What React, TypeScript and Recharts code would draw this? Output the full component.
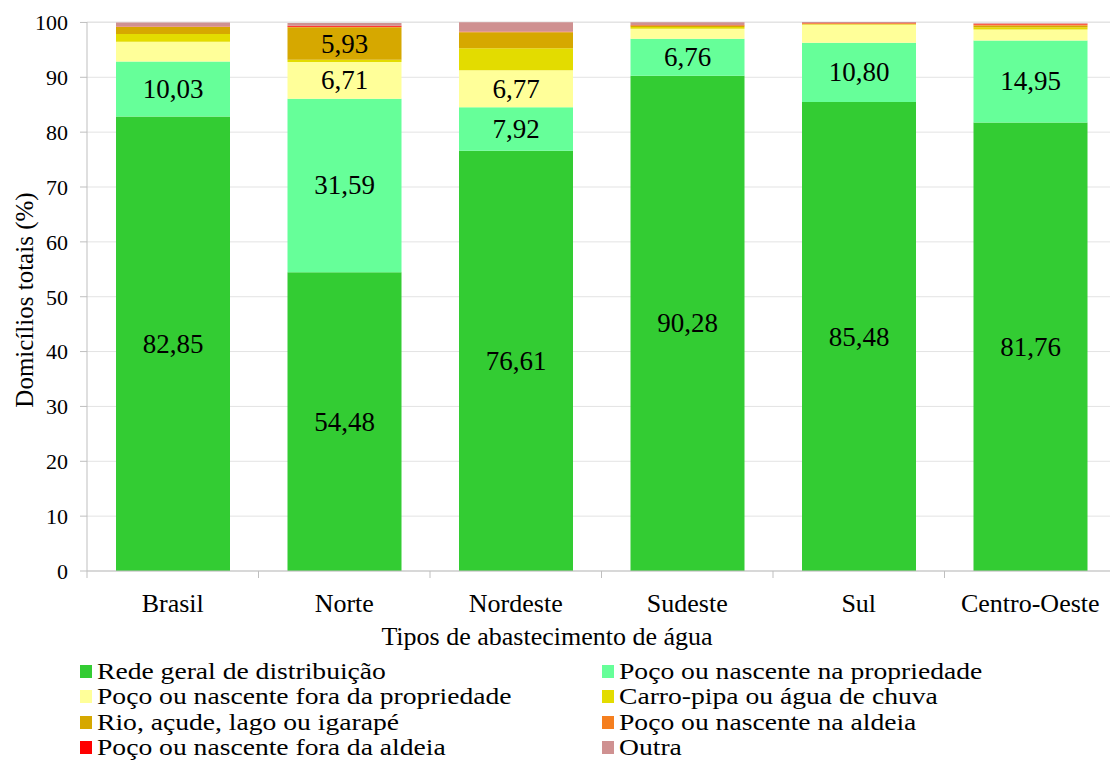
import { BarChart, Bar, XAxis, YAxis, CartesianGrid, Legend, LabelList } from 'recharts'

const regioes = ['Brasil', 'Norte', 'Nordeste', 'Sudeste', 'Sul', 'Centro-Oeste']

const redeGeral = [82.85, 54.48, 76.61, 90.28, 85.48, 81.76]
const pocoPropriedade = [10.03, 31.59, 7.92, 6.76, 10.8, 14.95]
const pocoForaPropriedade = [3.6, 6.71, 6.77, 1.8, 3.3, 2.0]
const carroPipa = [1.4, 0.4, 4.0, 0.35, 0.1, 0.4]
const rioAcude = [1.3, 5.93, 2.9, 0.25, 0.1, 0.35]
const pocoAldeia = [0.05, 0.1, 0.1, 0.05, 0.05, 0.15]
const pocoForaAldeia = [0.05, 0.2, 0.05, 0.05, 0.05, 0.15]
const outra = [0.7, 0.5, 1.7, 0.5, 0.2, 0.1]

const yTicks = [0, 10, 20, 30, 40, 50, 60, 70, 80, 90, 100]

const series = [
  { key: 'rede', name: 'Rede geral de distribuição', color: '#33cc33', values: redeGeral },
  { key: 'pocoProp', name: 'Poço ou nascente na propriedade', color: '#66ff99', values: pocoPropriedade },
  { key: 'pocoFora', name: 'Poço ou nascente fora da propriedade', color: '#ffff99', values: pocoForaPropriedade },
  { key: 'carro', name: 'Carro-pipa ou água de chuva', color: '#e3dc00', values: carroPipa },
  { key: 'rio', name: 'Rio, açude, lago ou igarapé', color: '#d6a800', values: rioAcude },
  { key: 'aldeia', name: 'Poço ou nascente na aldeia', color: '#f57f1f', values: pocoAldeia },
  { key: 'foraAldeia', name: 'Poço ou nascente fora da aldeia', color: '#ff0000', values: pocoForaAldeia },
  { key: 'outra', name: 'Outra', color: '#cf9191', values: outra },
]

const data = regioes.map((r, i) => {
  const row: Record<string, string | number> = { regiao: r }
  series.forEach((s) => { row[s.key] = s.values[i] })
  return row
})

const FONT = "'Liberation Serif', 'DejaVu Serif', 'Times New Roman', serif"
const W = 1116
const H = 762
const LEFT = 87
const BAND = (W - LEFT) / regioes.length

function ValueLabel(props: any) {
  const { x, y, width, height, value } = props
  if (value == null || value < 5) return null
  return (
    <text x={x + width / 2} y={y + height / 2} dy={9} textAnchor="middle" style={{ fontFamily: FONT }} fontSize={27} fill="#000">
      {Number(value).toFixed(2).replace('.', ',')}
    </text>
  )
}

function CategoryTick(props: any) {
  const { x, y, payload, index } = props
  const axisY = y - 6
  return (
    <g>
      <line x1={x - BAND / 2} x2={x - BAND / 2} y1={axisY} y2={axisY + 7} stroke="#bfbfbf" />
      {index === regioes.length - 1 && (
        <line x1={x + BAND / 2} x2={x + BAND / 2} y1={axisY} y2={axisY + 7} stroke="#bfbfbf" />
      )}
      <text x={x} y={axisY + 41} textAnchor="middle" style={{ fontFamily: FONT }} fontSize={26} fill="#000">
        {payload.value}
      </text>
    </g>
  )
}

function LegendBox() {
  return (
    <div style={{ position: 'relative', width: 1110, height: 110, fontFamily: FONT, fontSize: 23, color: '#000' }}>
      {series.map((s, i) => {
        const col = i % 2
        const row = Math.floor(i / 2)
        return (
          <div key={s.key} style={{ position: 'absolute', left: col === 0 ? 80 : 602, top: row * 25.3, height: 25, lineHeight: '25px', display: 'flex', alignItems: 'center', whiteSpace: 'nowrap' }}>
            <span style={{ display: 'inline-block', width: 12, height: 13, background: s.color, marginRight: 5 }} />
            <span style={{ display: 'inline-block', transform: 'scaleX(1.2)', transformOrigin: 'left center' }}>{s.name}</span>
          </div>
        )
      })}
    </div>
  )
}

export default function App() {
  return (
    <div style={{ position: 'absolute', left: 0, top: 0, width: 1110, height: 762, overflow: 'hidden', background: '#fff', fontFamily: FONT }}>
      <BarChart width={W} height={H} data={data} margin={{ top: 22, right: 0, bottom: 126, left: 0 }} barSize={114} style={{ fontFamily: FONT }}>
        <CartesianGrid vertical={false} stroke="#e3e3e3" />
        <XAxis
          dataKey="regiao"
          height={65}
          stroke="#bfbfbf"
          tickLine={false}
          tickSize={0}
          tickMargin={6}
          tick={<CategoryTick />}
          interval={0}
          label={{
            content: () => (
              <text x={547} y={645} textAnchor="middle" style={{ fontFamily: FONT }} fontSize={26} fill="#000">
                Tipos de abastecimento de água
              </text>
            ),
          }}
        />
        <YAxis
          width={87}
          domain={[0, 100]}
          ticks={yTicks}
          interval={0}
          stroke="#bfbfbf"
          tickSize={7}
          tickMargin={12}
          tick={{ style: { fontFamily: FONT }, fontSize: 22, fill: '#000' }}
          label={{
            content: () => (
              <text x={24} y={300} transform="rotate(-90 24 300)" dy={9} textAnchor="middle" style={{ fontFamily: FONT }} fontSize={25} fill="#000">
                Domicílios totais (%)
              </text>
            ),
          }}
        />
        <Legend
          layout="vertical"
          align="center"
          verticalAlign="middle"
          wrapperStyle={{ top: 659, left: 0, width: 1110 }}
          content={() => <LegendBox />}
        />
        {series.map((s) => (
          <Bar key={s.key} dataKey={s.key} name={s.name} stackId="a" fill={s.color} isAnimationActive={false}>
            <LabelList dataKey={s.key} content={<ValueLabel />} />
          </Bar>
        ))}
      </BarChart>
    </div>
  )
}
